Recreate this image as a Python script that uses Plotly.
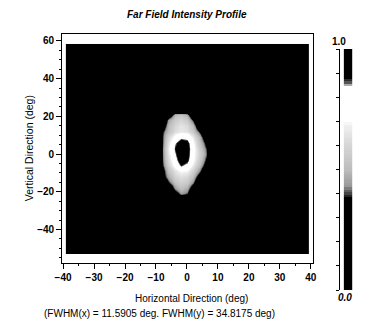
import plotly.graph_objects as go

W, H = 366, 324

# ---- data: far-field intensity (normalized) ----
blob_x = [-10, -8, -6, -4, -2, 0, 2, 4, 6, 8]            # deg (horizontal)
blob_y = [-24, -21, -18, -15, -12, -9, -6, -3, 0, 3, 6, 9, 12, 15, 18, 21, 24]  # deg (vertical)
blob_z = [
    [0.00, 0.00, 0.00, 0.10, 0.24, 0.20, 0.05, 0.00, 0.00, 0.00],  # -24
    [0.00, 0.00, 0.10, 0.30, 0.44, 0.40, 0.18, 0.00, 0.00, 0.00],  # -21
    [0.00, 0.05, 0.25, 0.44, 0.52, 0.47, 0.30, 0.08, 0.00, 0.00],  # -18
    [0.00, 0.12, 0.38, 0.52, 0.58, 0.55, 0.42, 0.18, 0.00, 0.00],  # -15
    [0.00, 0.30, 0.46, 0.58, 0.63, 0.60, 0.50, 0.30, 0.08, 0.00],  # -12
    [0.02, 0.30, 0.52, 0.64, 0.70, 0.69, 0.58, 0.42, 0.20, 0.00],  # -9
    [0.04, 0.36, 0.58, 0.74, 0.87, 0.80, 0.66, 0.50, 0.30, 0.02],  # -6
    [0.05, 0.38, 0.62, 0.80, 0.95, 0.90, 0.72, 0.55, 0.37, 0.05],  # -3
    [0.05, 0.38, 0.65, 0.84, 1.00, 0.93, 0.74, 0.58, 0.42, 0.10],  # 0
    [0.05, 0.38, 0.68, 0.88, 1.00, 0.94, 0.75, 0.56, 0.40, 0.08],  # 3
    [0.05, 0.37, 0.65, 0.84, 0.95, 0.92, 0.72, 0.52, 0.35, 0.05],  # 6
    [0.05, 0.37, 0.60, 0.74, 0.82, 0.80, 0.66, 0.48, 0.25, 0.00],  # 9
    [0.02, 0.36, 0.52, 0.62, 0.66, 0.64, 0.55, 0.38, 0.10, 0.00],  # 12
    [0.00, 0.25, 0.50, 0.60, 0.65, 0.62, 0.50, 0.25, 0.00, 0.00],  # 15
    [0.00, 0.15, 0.45, 0.55, 0.60, 0.55, 0.38, 0.10, 0.00, 0.00],  # 18
    [0.00, 0.00, 0.25, 0.48, 0.52, 0.46, 0.20, 0.00, 0.00, 0.00],  # 21
    [0.00, 0.00, 0.00, 0.02, 0.05, 0.02, 0.00, 0.00, 0.00, 0.00],  # 24
]
field_x_extent = (-39.1, 39.4)   # extent of measured field, deg
field_y_extent = (-53.2, 58.4)

x_ticks = [-40, -30, -20, -10, 0, 10, 20, 30, 40]
y_ticks = [-40, -20, 0, 20, 40, 60]
cbar_levels = [i / 100 for i in range(101)]

title_text = "Far Field Intensity Profile"
xtitle_text = "Horizontal Direction (deg)"
ytitle_text = "Vertical Direction (deg)"
sub_text = "(FWHM(x) = 11.5905 deg. FWHM(y) = 34.8175 deg)"

# ---- build full grid (brick edges) with zero background ----
dx = blob_x[1] - blob_x[0]
dy = blob_y[1] - blob_y[0]
cx = [blob_x[0] - dx] + blob_x + [blob_x[-1] + dx]
cy = [blob_y[0] - dy] + blob_y + [blob_y[-1] + dy]
x_edges = [field_x_extent[0]] + [c - dx / 2 for c in cx] + [cx[-1] + dx / 2, field_x_extent[1]]
y_edges = [field_y_extent[0]] + [c - dy / 2 for c in cy] + [cy[-1] + dy / 2, field_y_extent[1]]
ncol = len(x_edges) - 1
zero_row = [0.0] * ncol
z_full = [zero_row, zero_row] + [[0.0, 0.0] + r + [0.0, 0.0] for r in blob_z] + [zero_row, zero_row]

cscale = [
    [0.00, "#000000"], [0.38, "#000000"], [0.40, "#444444"], [0.43, "#999999"],
    [0.50, "#bdbdbd"], [0.60, "#d6d6d6"], [0.68, "#efefef"], [0.70, "#ffffff"],
    [0.84, "#ffffff"], [0.86, "#555555"], [0.88, "#000000"], [1.00, "#000000"],
]

FONT = "Liberation Sans, Arial, sans-serif"

fig = go.Figure()
fig.add_trace(go.Heatmap(
    x=x_edges, y=y_edges, z=z_full, zmin=0, zmax=1, colorscale=cscale,
    zsmooth="best", showscale=False, hoverinfo="skip"))
fig.add_trace(go.Heatmap(
    x=[0], y=cbar_levels, z=[[v] for v in cbar_levels], zmin=0, zmax=1,
    colorscale=cscale, showscale=False, xaxis="x2", yaxis="y2", hoverinfo="skip"))

def px(xp):
    return xp / W

def py(yp):
    return 1 - yp / H

axis_common = dict(showline=True, linecolor="black", linewidth=1, mirror=True,
                   ticks="outside", ticklen=5, tickcolor="black", showgrid=False,
                   zeroline=False,
                   tickfont=dict(family=FONT, size=10, color="black", weight="bold"))

fig.update_layout(
    width=W, height=H, margin=dict(l=0, r=0, t=0, b=0),
    paper_bgcolor="white", plot_bgcolor="white", showlegend=False,
    xaxis=dict(domain=[px(56), px(315)], range=[-40.3, 40.6], tickvals=x_ticks,
               minor=dict(dtick=5, ticklen=2, ticks="outside", tickcolor="black"),
               **axis_common),
    yaxis=dict(domain=[py(263), py(34)], range=[-57.8, 63.7], tickvals=y_ticks,
               minor=dict(dtick=5, ticklen=2, ticks="outside", tickcolor="black"),
               **axis_common),
    xaxis2=dict(domain=[px(347), px(356)], range=[-0.5, 0.5], visible=False, anchor="y2"),
    yaxis2=dict(domain=[py(290), py(49)], range=[0, 1], anchor="free", position=px(342),
                side="left", showline=True, linecolor="black", linewidth=1,
                ticks="outside", ticklen=3, tickcolor="black", dtick=0.1,
                showticklabels=False, showgrid=False, zeroline=False),
)

ann = [
    dict(text=title_text, x=px(185), y=py(15),
         font=dict(family=FONT, size=10, color="black", style="italic", weight="bold")),
    dict(text=ytitle_text, x=px(22), y=py(148), textangle=-90,
         font=dict(family=FONT, size=10.5, color="black")),
    dict(text=xtitle_text, x=px(190), y=py(298),
         font=dict(family=FONT, size=10, color="black")),
    dict(text=sub_text, x=px(157), y=py(313),
         font=dict(family=FONT, size=10, color="black")),
    dict(text="1.0", x=px(342), y=py(41),
         font=dict(family=FONT, size=10, color="black", weight="bold")),
    dict(text="0.0", x=px(348), y=py(297),
         font=dict(family=FONT, size=10, color="black", weight="bold", style="italic")),
]
for a in ann:
    fig.add_annotation(xref="paper", yref="paper", showarrow=False,
                       xanchor="center", yanchor="middle", **a)

fig.write_html("out.html")
